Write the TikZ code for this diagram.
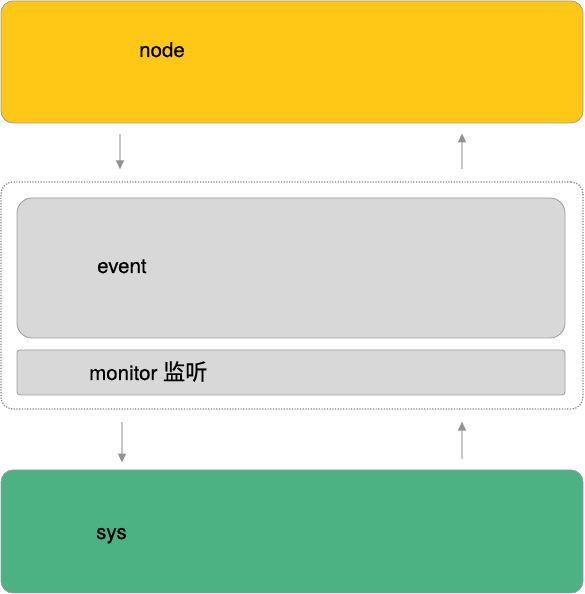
\documentclass[tikz,border=0pt]{standalone}
\usepackage{fontspec}
\setmainfont{TeX Gyre Heros}[FakeBold=0.4]
\newfontfamily\cjk{Noto Sans CJK SC}[Scale=1.08, FakeBold=0.6]
\usetikzlibrary{arrows.meta,positioning,calc}

\definecolor{nodeorange}{HTML}{FFC816}
\definecolor{sysgreen}{HTML}{4CB284}
\definecolor{boxgray}{HTML}{D8D8D8}
\definecolor{edgegray}{HTML}{9B9B9B}

\begin{document}
\begin{tikzpicture}[
    x=1pt, y=1pt,
    font=\fontsize{20.5}{23}\selectfont,
    layer/.style={draw=edgegray, line width=0.8pt, rounded corners=12pt, minimum width=582pt, inner sep=0pt},
    inbox/.style={draw=edgegray, line width=0.8pt, fill=boxgray, minimum width=548pt, inner sep=0pt},
    txt/.style={inner sep=0pt, anchor=base west},
    line/.style={gray!45, line width=1.2pt, -{Triangle[length=9pt, width=8pt, color=gray!85]}}
]
    \useasboundingbox (0,0) rectangle (584,594);

    \node[layer, fill=nodeorange, minimum height=122pt] (node) at (292,532) {};
    \node[layer, draw=gray!95, line width=1.2pt, dash pattern=on 1.2pt off 1.5pt, minimum height=227pt] (wrap) at (292,298.5) {};
    \node[inbox, rounded corners=15pt, minimum height=140pt] (event) at (291,326) {};
    \node[inbox, rounded corners=3pt, minimum height=45pt] (monitor) at (291,221.5) {};
    \node[layer, fill=sysgreen, minimum height=123pt] (sys) at (292,62.5) {};

    \node[txt] (nodetxt) at (139,537) {node};
    \node[txt] (eventtxt) at (97,321) {event};
    \node[txt] (monitortxt) at (89,214) {monitor {\cjk 监听}};
    \node[txt] (systxt) at (96,55) {sys};

    % connectors
    \coordinate (left1) at (120,0);
    \coordinate (left2) at (122,0);
    \coordinate (right) at (462,0);
    \draw[line, shorten <=11pt, shorten >=12pt] (node.south -| left1) -- (wrap.north -| left1);
    \draw[line, shorten <=12pt, shorten >=10pt] (wrap.north -| right) -- (node.south -| right);
    \draw[line, shorten <=12pt, shorten >=7pt] (wrap.south -| left2) -- (sys.north -| left2);
    \draw[line, shorten <=11pt, shorten >=12pt] (sys.north -| right) -- (wrap.south -| right);
\end{tikzpicture}
\end{document}
